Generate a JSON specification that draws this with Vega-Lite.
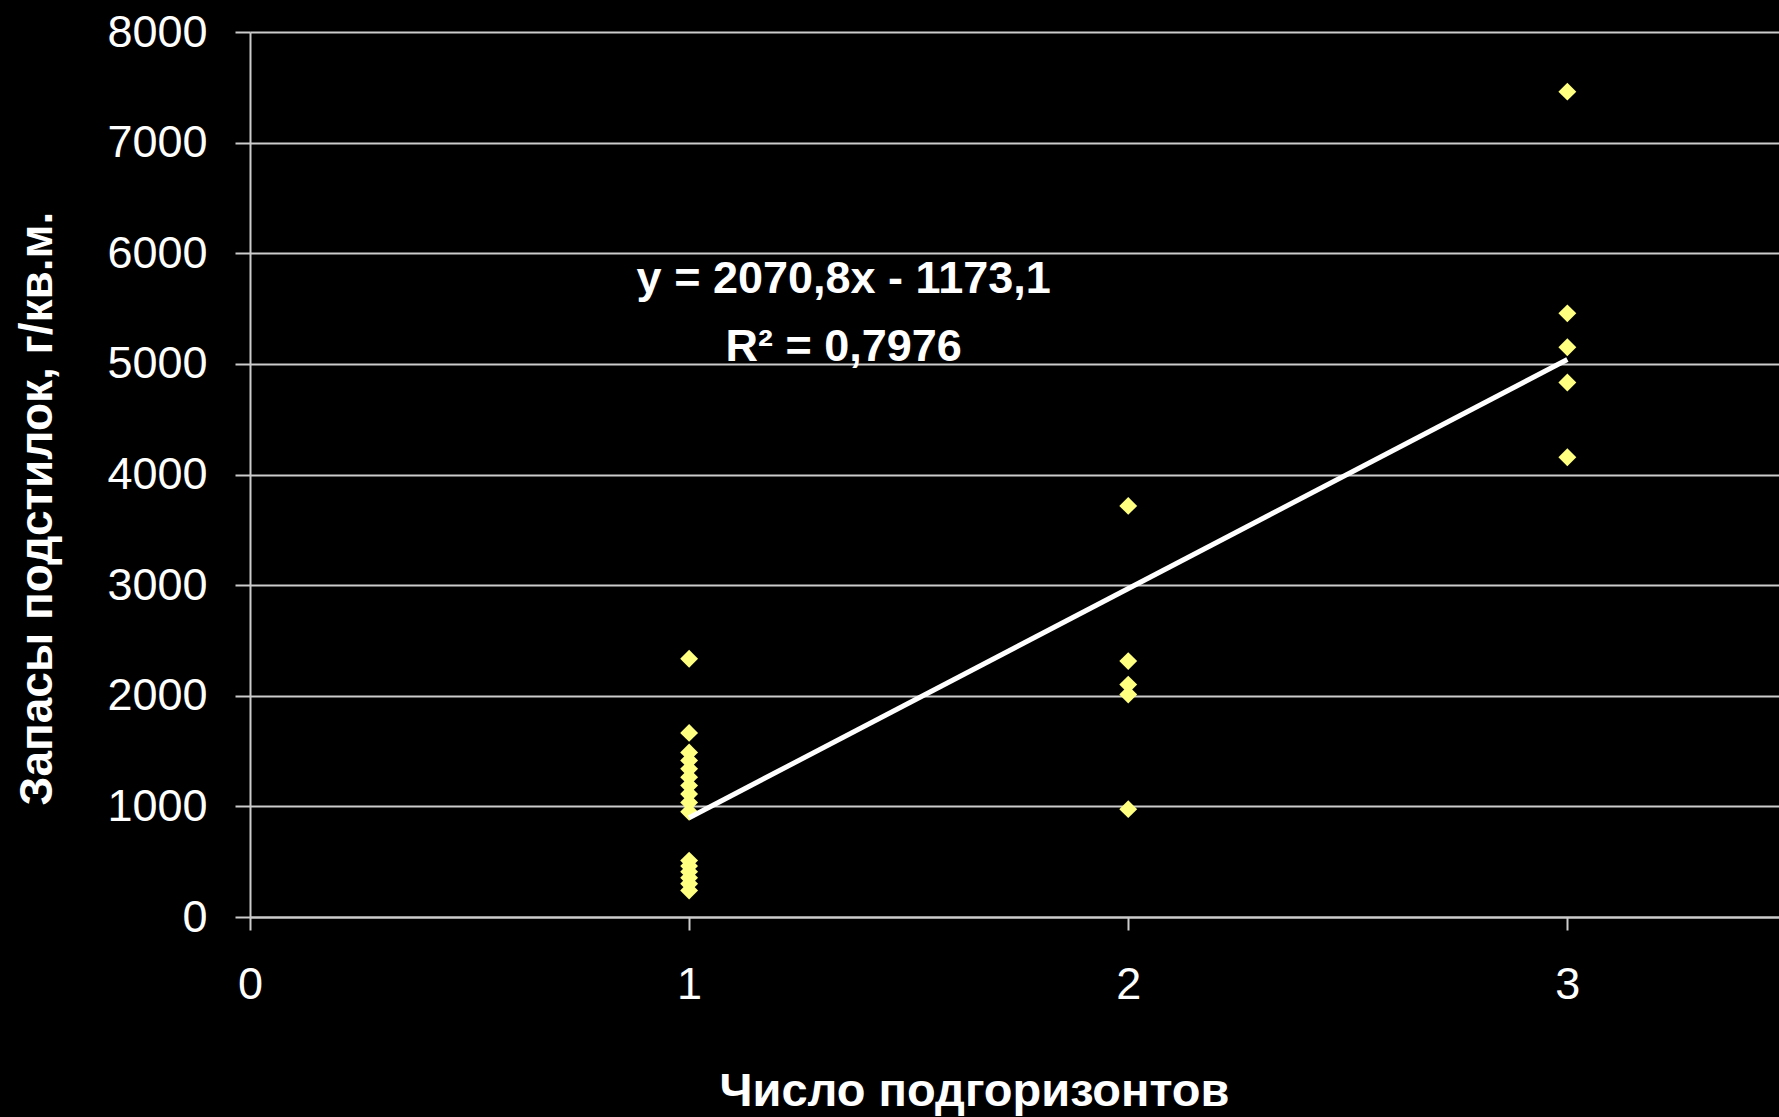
{
  "$schema": "https://vega.github.io/schema/vega-lite/v6.json",
  "width": 1529,
  "height": 885,
  "autosize": {"type": "none"},
  "padding": {"left": 250, "top": 32, "right": 0, "bottom": 200},
  "background": "#000000",
  "config": {"view": {"stroke": null}, "font": "Liberation Sans"},
  "datasets": {
    "points": [
      {"x": 1, "y": 2334}, {"x": 1, "y": 1664}, {"x": 1, "y": 1488}, {"x": 1, "y": 1415},
      {"x": 1, "y": 1339}, {"x": 1, "y": 1264}, {"x": 1, "y": 1188}, {"x": 1, "y": 1112},
      {"x": 1, "y": 1036}, {"x": 1, "y": 951}, {"x": 1, "y": 510}, {"x": 1, "y": 460},
      {"x": 1, "y": 410}, {"x": 1, "y": 355}, {"x": 1, "y": 300}, {"x": 1, "y": 240},
      {"x": 2, "y": 3716}, {"x": 2, "y": 2313}, {"x": 2, "y": 2101}, {"x": 2, "y": 2011}, {"x": 2, "y": 975},
      {"x": 3, "y": 7461}, {"x": 3, "y": 5457}, {"x": 3, "y": 5150}, {"x": 3, "y": 4832}, {"x": 3, "y": 4156}
    ],
    "fit": [
      {"x": 1, "y": 897.7},
      {"x": 3, "y": 5039.3}
    ],
    "labels": [
      {"x": 1.352, "y": 5645, "label": "y = 2070,8x - 1173,1"},
      {"x": 1.352, "y": 5027, "label": "R² = 0,7976"}
    ]
  },
  "encoding": {
    "x": {
      "field": "x", "type": "quantitative",
      "scale": {"domain": [0, 3.482], "nice": false, "zero": false},
      "axis": {
        "values": [0, 1, 2, 3],
        "format": "d",
        "grid": false,
        "domainColor": "#cccccc", "domainWidth": 2,
        "tickColor": "#cccccc", "tickWidth": 2, "tickSize": 13,
        "labelColor": "#ffffff", "labelFont": "Liberation Sans", "labelFontSize": 45,
        "labelPadding": 32, "labelFlush": false, "labelOverlap": false,
        "title": "Число подгоризонтов",
        "titleColor": "#ffffff", "titleFont": "Liberation Sans", "titleFontSize": 47, "titleFontWeight": "bold",
        "titleX": 724, "titleY": 188, "titleAlign": "center", "titleBaseline": "alphabetic"
      }
    },
    "y": {
      "field": "y", "type": "quantitative",
      "scale": {"domain": [0, 8000], "nice": false},
      "axis": {
        "values": [0, 1000, 2000, 3000, 4000, 5000, 6000, 7000, 8000],
        "format": "d",
        "grid": true, "gridColor": "#cccccc", "gridWidth": 2,
        "domainColor": "#cccccc", "domainWidth": 2,
        "tickColor": "#cccccc", "tickWidth": 2, "tickSize": 15,
        "labelColor": "#ffffff", "labelFont": "Liberation Sans", "labelFontSize": 45,
        "labelPadding": 28, "labelFlush": false, "labelOverlap": false,
        "title": "Запасы подстилок, г/кв.м.",
        "titleColor": "#ffffff", "titleFont": "Liberation Sans", "titleFontSize": 46, "titleFontWeight": "bold",
        "titleX": -199, "titleY": 476, "titleAlign": "center", "titleBaseline": "alphabetic", "titleAngle": 270
      }
    }
  },
  "layer": [
    {
      "data": {"name": "points"},
      "mark": {"type": "point", "shape": "diamond", "filled": true, "size": 320, "color": "#ffff80", "opacity": 1, "strokeWidth": 0}
    },
    {
      "data": {"name": "fit"},
      "mark": {"type": "line", "color": "#ffffff", "strokeWidth": 5}
    },
    {
      "data": {"name": "labels"},
      "mark": {"type": "text", "font": "Liberation Sans", "fontSize": 45, "fontWeight": "bold", "color": "#ffffff", "align": "center", "baseline": "alphabetic"},
      "encoding": {"text": {"field": "label", "type": "nominal"}}
    }
  ]
}
